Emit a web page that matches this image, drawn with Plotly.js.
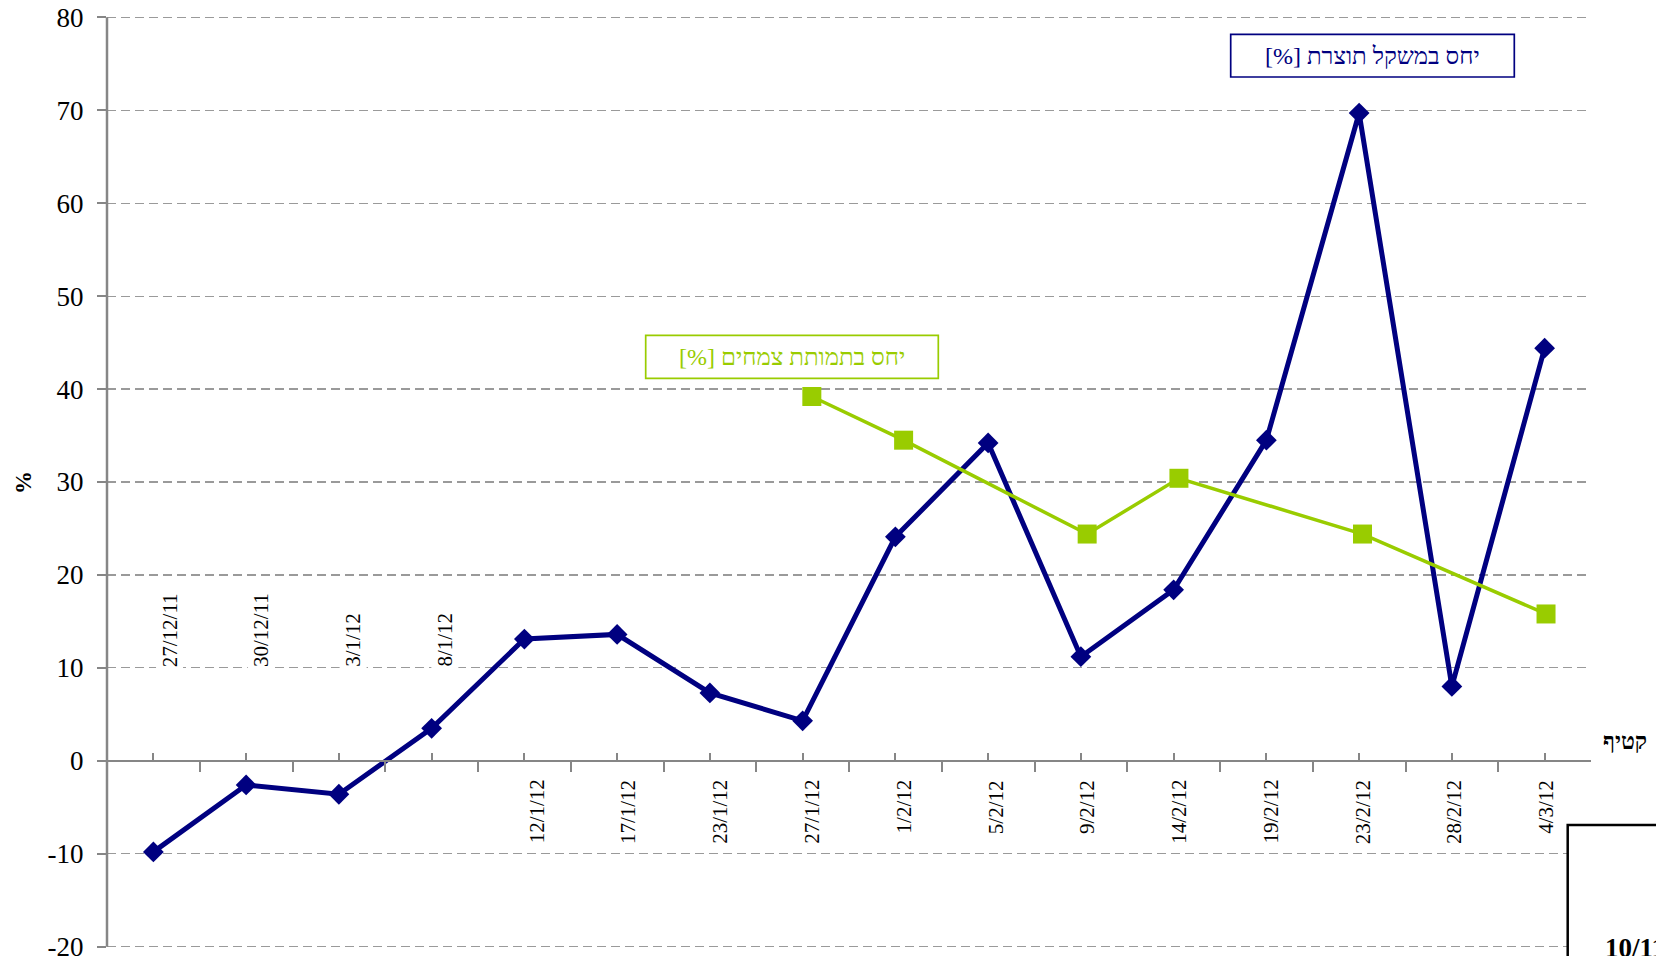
<!DOCTYPE html>
<html><head><meta charset="utf-8">
<script src="https://cdn.plot.ly/plotly-3.0.1.min.js"></script>
<style>html,body{margin:0;padding:0;background:#fff;} #chart{width:1656px;height:956px;}</style>
</head><body><div id="chart"></div>
<script>
// ---- data ----
const dates = ['27/12/11','30/12/11','3/1/12','8/1/12','12/1/12','17/1/12','23/1/12','27/1/12','1/2/12','5/2/12','9/2/12','14/2/12','19/2/12','23/2/12','28/2/12','4/3/12'];
const weightRatio = [-9.8,-2.6,-3.6,3.5,13.1,13.6,7.3,4.3,24.1,34.2,11.2,18.4,34.5,69.7,8.0,44.4];
const mortalityDates = ['27/1/12','1/2/12','9/2/12','14/2/12','23/2/12','4/3/12'];
const mortalityRatio = [39.2,34.5,24.4,30.4,24.4,15.8];
const yTicks = [-20,-10,0,10,20,30,40,50,60,70,80];
const yTickText = ['-20','-10','0','10','20','30','40','50','60','70','80'];
const labelsAboveCount = 4;
const weightName = 'יחס במשקל תוצרת [%]';
const mortalityName = 'יחס בתמותת צמחים [%]';
const yTitle = '%';
const harvestLabel = 'קטיף';
const cornerLabel = '10/11';

// ---- layout helpers ----
const W = 1656, H = 956;
const YMIN = -20.25, YMAX = 80.25;           // slight pad so edge gridlines are drawn
const PXU = 9.29;                            // px per y unit
const MT = Math.round(17.3 - (YMAX - 80) * PXU);
const PH = Math.round((YMAX - YMIN) * PXU);
const MB = H - MT - PH;
const ML = 107, MR = 65;
const PW = W - ML - MR;
const px = x => (x - ML) / PW;
const py = y => (H - MB - y) / PH;
const RLM = '\u200F';
const NAVY = '#000080', GREEN = '#99CC00', AXC = '#868686';
const serif = '"Liberation Serif", "Times New Roman", "DejaVu Serif", serif';

const idx = dates.map((_, i) => i);
const bounds = [-0.5].concat(idx.map(i => i + 0.5));
const mIdx = mortalityDates.map(d => dates.indexOf(d));

const traces = [
  {type:'scatter', mode:'lines+markers', x: idx, y: weightRatio, name: weightName,
   line:{color:NAVY, width:5}, marker:{symbol:'diamond', size:16, color:NAVY},
   cliponaxis:false, hoverinfo:'skip'},
  {type:'scatter', mode:'lines+markers', x: mIdx, y: mortalityRatio, name: mortalityName,
   xaxis:'x2', line:{color:GREEN, width:3.5}, marker:{symbol:'square', size:19, color:GREEN},
   cliponaxis:false, hoverinfo:'skip'}
];

const annotations = dates.map((d, i) => {
  const above = i < labelsAboveCount;
  return {xref:'x2', yref:'y', x:i, y: above ? 10 : 0, text:d, textangle:-90, showarrow:false,
    xanchor:'center', yanchor: above ? 'bottom' : 'top', yshift: above ? -1 : -17,
    font:{family:serif, size:21, color:'#000'}, bgcolor: above ? '#ffffff' : 'rgba(0,0,0,0)', borderpad:1};
});
annotations.push(
  {xref:'paper', yref:'paper', x:px(1372.5), y:py(55.7), text: weightName + RLM, showarrow:false,
   xanchor:'center', yanchor:'middle', font:{family:serif, size:24, color:NAVY}},
  {xref:'paper', yref:'paper', x:px(792), y:py(357), text: mortalityName + RLM, showarrow:false,
   xanchor:'center', yanchor:'middle', font:{family:serif, size:24, color:GREEN}},
  {xref:'paper', yref:'paper', x:px(23), y:py(483), text:'<b>' + yTitle + '</b>', textangle:-90, showarrow:false,
   xanchor:'center', yanchor:'middle', font:{family:serif, size:23, color:'#000'}},
  {xref:'paper', yref:'paper', x:px(1601), y:py(741.7), text:'<b>' + harvestLabel + '</b>', showarrow:false,
   xanchor:'left', yanchor:'middle', font:{family:serif, size:23, color:'#000'}},
  {xref:'paper', yref:'paper', x:px(1603), y:py(931), text:'<b>' + cornerLabel + '</b>', showarrow:false,
   xanchor:'left', yanchor:'top', font:{family:serif, size:27, color:'#000'}}
);

const shapes = [
  {type:'rect', xref:'paper', yref:'paper', x0:px(1230.7), x1:px(1514.3), y0:py(77), y1:py(34.3),
   line:{color:NAVY, width:1.7}, fillcolor:'rgba(0,0,0,0)'},
  {type:'rect', xref:'paper', yref:'paper', x0:px(645.7), x1:px(938.3), y0:py(378.3), y1:py(335.3),
   line:{color:GREEN, width:1.7}, fillcolor:'rgba(0,0,0,0)'},
  {type:'rect', xref:'paper', yref:'paper', x0:px(1567.7), x1:px(1720), y0:py(1020), y1:py(825),
   line:{color:'#000', width:2.5}, fillcolor:'#ffffff', layer:'above'},
  // y axis line spans exactly -20..80 like the reference
  {type:'line', xref:'paper', yref:'y', x0:0, x1:0, y0:-20, y1:80, line:{color:AXC, width:2.5}, layer:'above'}
];

const layout = {
  width: W, height: H, margin:{l:ML, r:MR, t:MT, b:MB, pad:0},
  paper_bgcolor:'#fff', plot_bgcolor:'#fff', showlegend:false,
  font:{family:serif, color:'#000'},
  xaxis:{range:[-0.5, 15.5], anchor:'free', position:(0 - YMIN) / (YMAX - YMIN), showline:true, linecolor:AXC, linewidth:2.5,
    tickmode:'array', tickvals: idx, ticks:'inside', ticklen:7, tickwidth:2, tickcolor:AXC,
    showticklabels:false, showgrid:false, zeroline:false, fixedrange:true,
    minor:{tickmode:'array', tickvals: bounds, ticks:'outside', ticklen:10, tickwidth:2, tickcolor:AXC, showgrid:false}},
  xaxis2:{overlaying:'x', range:[-0.68, 15.49], visible:false, fixedrange:true},
  yaxis:{range:[YMIN, YMAX], tickmode:'array', tickvals: yTicks, ticktext: yTickText, ticks:'outside', ticklen:9, tickwidth:2, tickcolor:AXC,
    showline:false, showgrid:true, gridcolor:'#9a9a9a', gridwidth:1.2, griddash:'9px,5px', ticklabeloverflow:'allow',
    zeroline:false, tickfont:{family:serif, size:27, color:'#000'}, ticklabelstandoff:8, fixedrange:true},
  annotations, shapes
};

Plotly.newPlot('chart', traces, layout, {displayModeBar:false, staticPlot:true});
</script></body></html>
